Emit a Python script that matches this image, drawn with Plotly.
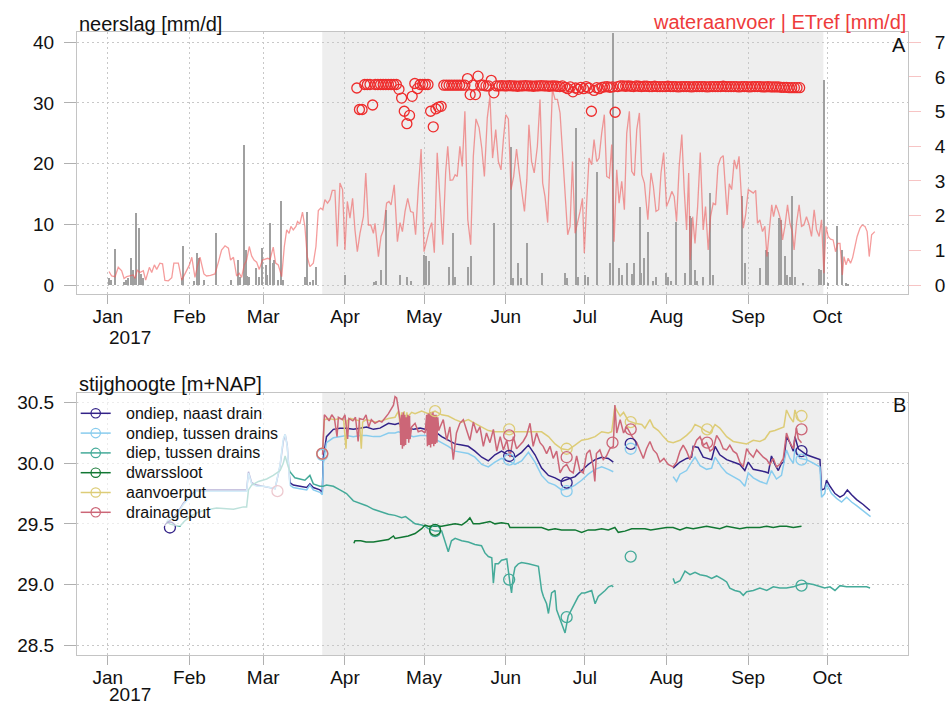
import pandas as pd
import plotly.graph_objects as go

BASE = pd.Timestamp("2017-01-01")

# ---------------- top panel data (day offset from 1 Jan 2017, value) ----------------
NEERSLAG = [(0.6,1.1),(1.2,0.8),(2.8,5.9),(6.2,0.5),(7.2,0.8),(7.8,1.1),(8.8,4.4),(9.7,2.4),(10.1,1.4),
            (10.9,11.8),(11.9,9.4),(12.8,1.8),(13.5,1.1),(28.1,1.1),(28.8,6.4),(32.9,0.7),(33.8,5.2),
            (34.6,4.4),(36.5,0.9),(41.0,8.5),(47.0,0.8),(49.6,4.1),(50.2,1.4),(51.8,23.1),(52.5,5.8),
            (53.0,1.5),(53.7,1.4),(56.5,2.8),(57.4,1.4),(58.8,6.1),(60.0,3.3),(60.6,1.7),(61.8,10.2),
            (62.6,3.6),(63.3,4.1),(64.8,0.8),(65.7,13.8),(66.4,0.8),(74.8,1.4),(75.7,12.1),(76.7,0.5),
            (78.0,0.8),(79.0,3.0),(90.0,1.7),(101.0,0.5),(102.0,0.7),(103.9,2.5),(105.8,12.4),(110.9,1.7),
            (113.7,1.3),(115.0,0.6),(120.1,5.0),(121.0,4.7),(121.9,3.9),(129.5,2.9),(130.9,8.5),(131.9,1.4),
            (136.8,3.0),(137.8,4.7),(146.7,10.2),(152.9,22.8),(153.8,1.1),(155.8,3.6),(156.8,1.1),(159.0,7.0),
            (164.9,1.9),(173.7,1.9),(174.5,1.1),(177.6,25.9),(178.5,1.4),(181.3,1.7),(182.1,1.4),(185.7,18.7),
            (190.7,3.6),(191.9,41.5),(194.0,2.8),(195.2,1.7),(196.9,3.6),(198.8,1.8),(199.8,3.6),(201.9,12.9),
            (202.5,1.9),(203.7,4.4),(204.9,8.8),(207.0,0.6),(208.0,1.3),(211.8,1.9),(212.6,1.4),(213.7,0.6),
            (215.8,10.3),(219.0,1.9),(220.9,11.3),(221.5,11.0),(222.8,2.4),(223.8,0.7),(225.9,1.4),(228.7,15.2),
            (229.7,1.7),(240.8,14.7),(241.9,3.6),(247.7,2.8),(250.0,5.8),(250.7,5.5),(254.8,11.0),(255.6,10.7),
            (256.9,4.7),(257.8,1.7),(258.8,1.4),(259.8,14.7),(260.7,1.4),(263.9,0.4),(269.8,2.6),(270.8,2.4),
            (271.8,33.8),(273.3,0.3),(276.9,9.7),(278.7,5.8),(280.1,0.3),(281.0,0.2)]

ETREF = [(0.5,0.39),(1.5,0.26),(2.8,0.24),(4.0,0.51),(5.3,0.41),(6.2,0.19),(7.2,0.24),(8.5,0.26),(9.7,0.29),
         (10.4,0.19),(11.2,0.43),(12.2,0.36),(13.5,0.41),(14.4,0.14),(15.8,0.51),(16.7,0.36),(17.7,0.58),
         (18.6,0.45),(19.8,0.63),(20.8,0.61),(21.7,0.13),(23.0,0.12),(24.3,0.21),(25.1,0.63),(26.8,0.63),
         (28.1,0.14),(29.3,0.31),(31.0,0.58),(31.9,0.8),(33.1,0.22),(34.0,0.53),(35.0,0.8),(36.5,0.32),
         (37.5,0.26),(39.0,0.28),(40.7,0.32),(42.0,0.66),(43.2,1.01),(44.5,1.13),(45.8,1.06),(46.6,0.72),
         (47.7,0.8),(48.9,0.26),(49.9,0.34),(50.8,0.22),(51.8,0.58),(52.7,0.72),(53.7,1.11),(54.6,0.84),
         (55.5,0.72),(56.5,0.66),(57.5,0.45),(58.7,0.72),(59.7,0.74),(60.7,0.77),(61.6,0.74),(62.8,1.09),
         (63.7,0.63),(64.7,0.58),(66.0,0.24),(67.0,1.11),(67.9,1.59),(68.8,1.49),(69.5,1.69),(70.4,1.59),
         (71.4,1.69),(72.0,1.83),(72.9,1.76),(73.9,2.1),(74.8,1.69),(75.7,0.82),(76.7,0.53),(78.0,0.63),
         (79.0,1.11),(79.9,2.15),(80.8,2.22),(81.6,2.17),(82.4,2.46),(83.4,2.36),(84.3,2.46),(85.2,2.73),
         (86.2,2.73),(87.1,1.11),(88.1,2.94),(89.1,2.75),(90.0,1.01),(90.9,2.41),(91.9,1.93),(92.9,2.5),
         (93.8,1.59),(94.7,0.96),(95.7,1.49),(97.0,1.97),(97.9,3.23),(98.9,1.73),(99.8,1.73),(100.8,1.49),
         (101.4,1.78),(102.7,0.82),(103.7,1.4),(104.6,1.59),(105.8,2.36),(106.7,2.41),(107.5,2.31),(108.7,2.89),
         (109.9,1.25),(110.9,1.8),(111.8,1.54),(112.8,2.12),(113.8,2.5),(114.9,2.12),(115.9,2.09),(116.8,1.45),
         (117.8,2.75),(118.9,3.92),(120.0,0.96),(121.0,1.3),(122.0,1.59),(122.9,1.8),(123.9,0.93),(125.0,3.81),
         (126.1,2.26),(127.1,1.16),(128.2,3.25),(129.0,4.0),(129.9,3.02),(130.9,3.03),(131.8,3.18),(132.6,3.13),
         (133.6,4.0),(134.5,3.42),(135.5,5.01),(136.6,1.88),(137.7,1.16),(138.7,3.71),(139.7,4.79),(140.9,4.53),
         (141.9,3.95),(142.9,3.13),(144.0,4.82),(145.0,5.44),(146.0,3.66),(147.2,4.48),(148.2,3.56),(149.2,3.32),
         (150.1,4.19),(151.0,4.91),(152.0,4.79),(153.0,2.75),(154.0,3.13),(155.1,3.92),(156.0,3.32),(157.0,2.75),
         (158.1,2.12),(159.0,3.03),(159.8,4.62),(160.8,3.56),(161.8,3.23),(163.0,4.0),(164.0,5.35),(165.0,2.94),
         (165.9,2.55),(166.9,1.8),(167.8,3.66),(168.7,5.64),(169.7,5.35),(170.6,5.35),(171.6,4.96),(172.5,3.85),
         (173.5,2.55),(174.5,1.45),(175.4,1.69),(176.3,3.56),(177.3,1.49),(178.3,1.78),(179.2,2.12),(180.1,2.5),
         (180.8,0.92),(181.7,2.36),(182.6,3.66),(183.6,3.47),(184.5,4.19),(185.5,3.56),(186.4,3.66),(187.4,4.38),
         (188.4,4.91),(189.3,3.13),(190.3,3.08),(191.2,4.05),(192.1,1.25),(193.1,3.32),(194.0,2.36),(195.0,2.99),
         (196.0,2.17),(196.9,4.38),(197.9,5.01),(198.8,3.28),(199.8,3.15),(200.7,4.48),(201.7,4.96),(202.6,3.18),
         (203.6,2.94),(204.9,1.88),(206.1,3.23),(207.0,2.84),(208.0,2.12),(209.0,2.17),(209.9,3.23),(210.9,3.82),
         (212.0,2.26),(213.0,2.46),(214.0,2.7),(214.9,2.55),(215.8,1.83),(216.8,3.42),(217.8,4.34),(218.7,2.75),
         (219.6,1.59),(220.4,3.23),(221.0,0.72),(221.9,1.97),(222.8,1.2),(223.8,2.26),(224.8,3.82),(225.9,1.59),
         (226.8,2.26),(227.8,1.01),(228.7,1.97),(229.7,2.36),(230.6,2.31),(231.5,3.42),(232.5,3.66),(233.5,3.73),
         (234.1,3.03),(235.0,2.02),(235.8,2.92),(236.7,2.75),(237.7,3.61),(238.6,3.34),(239.5,3.71),(240.2,2.75),
         (241.1,1.64),(242.0,2.02),(243.0,2.75),(244.0,2.7),(244.9,2.65),(245.8,2.73),(246.5,1.78),(247.4,1.88),
         (248.4,1.54),(249.3,1.69),(250.1,0.82),(251.0,1.59),(251.9,2.31),(252.6,1.97),(253.5,2.31),(254.4,2.12),
         (255.3,1.88),(256.0,1.3),(256.9,1.69),(257.9,2.31),(258.8,1.78),(259.7,1.54),(260.4,1.01),(261.3,1.78),
         (262.3,2.31),(263.2,1.69),(264.1,1.73),(265.1,1.97),(266.1,1.73),(267.0,1.4),(268.0,2.17),(268.9,1.59),
         (269.9,1.4),(270.8,1.88),(271.7,0.34),(272.5,1.69),(273.3,1.4),(274.2,1.32),(275.2,1.3),(276.1,0.96),
         (277.0,1.2),(277.8,1.2),(278.7,0.29),(279.3,0.82),(280.1,0.58),(280.9,0.77),(281.8,0.63),(282.6,0.79),
         (283.5,1.11),(284.3,1.4),(285.4,1.64),(286.2,1.73),(287.3,1.69),(288.1,1.54),(288.9,0.82),(289.8,1.45),
         (291.0,1.54)]

WATERAANVOER_START = 94.5
WATERAANVOER = [5.68,5.06,5.06,5.78,5.78,5.78,5.19,5.78,5.78,5.78,5.78,5.78,5.78,5.78,5.78,5.78,
                5.64,5.39,5.01,4.65,4.89,5.44,5.81,5.66,5.78,5.78,5.78,5.78,5.01,4.56,5.08,5.13,
                5.15,5.76,5.76,5.76,5.76,5.76,5.76,5.76,5.76,5.76,5.95,5.49,5.76,5.49,6.02,5.76,
                5.76,5.74,5.74,5.90,5.54,5.74,5.74,5.75,5.74,5.74,5.75,5.74,5.74,5.73,5.74,5.74,
                5.75,5.74,5.74,5.73,5.74,5.74,5.75,5.74,5.74,5.73,5.74,5.74,5.73,5.72,5.74,5.70,
                5.66,5.71,5.57,5.68,5.64,5.70,5.66,5.72,5.68,5.01,5.61,5.69,5.66,5.70,5.71,5.72,
                5.70,5.71,4.98,5.72,5.74,5.74,5.73,5.74,5.73,5.72,5.74,5.73,5.72,5.73,5.73,5.72,
                5.72,5.73,5.72,5.72,5.72,5.72,5.73,5.72,5.72,5.72,5.71,5.72,5.72,5.72,5.72,5.71,
                5.72,5.72,5.72,5.72,5.72,5.71,5.72,5.72,5.72,5.72,5.72,5.73,5.72,5.72,5.72,5.72,
                5.72,5.71,5.72,5.72,5.72,5.71,5.72,5.72,5.72,5.72,5.71,5.71,5.72,5.71,5.71,5.71,
                5.71,5.70,5.70,5.70,5.69,5.69,5.69,5.69,5.69]

# ---------------- bottom panel data (day offset, stijghoogte m+NAP) ----------------
ONDIEP_NAAST = [(22.4,29.51),(24.3,29.54),(26.2,29.58),(28.7,29.67),(31.2,29.73),(33.7,29.78),(36.3,29.78),
    (41.3,29.78),(47.7,29.775),(52.7,29.78),(53.4,29.93),(54.6,29.84),(56.5,29.82),(59.0,29.81),(61.6,29.8),
    (63.5,29.79),(65.4,29.98),(66.6,30.18),(67.3,30.24),(68.1,30.15),(69.1,29.84),(70.4,29.82),(72.9,29.81),
    (75.5,29.8),(76.7,29.83),(78.0,29.8),(80.5,29.78),(81.4,29.76),(81.8,30.05),(83.0,30.22),(85.6,30.28),
    (88.1,30.29),(90.6,30.29),(93.2,30.28),(95.7,30.29),(98.2,30.3),(100.8,30.28),(103.3,30.29),(106.5,30.33),
    (109.0,30.32),(110.3,30.33),(113.0,30.3),(116.0,30.28),(118.5,30.29),(120.4,30.28),(122.5,30.27),
    (124.2,30.26),(126.7,30.22),(129.2,30.19),(131.8,30.16),(134.3,30.15),(136.8,30.14),(139.3,30.1),
    (141.9,30.05),(144.4,30.02),(146.9,30.07),(149.4,30.1),(152.0,30.07),(154.5,30.05),(157.0,30.09),
    (159.6,30.15),(162.1,30.07),(164.6,29.96),(167.2,29.9),(169.7,29.88),(172.2,29.85),(174.7,29.87),
    (177.3,29.89),(179.8,29.94),(182.3,29.99),(184.9,30.03),(187.4,30.05),(189.9,30.04),(191.8,30.01),
    (None,None),
    (214.5,29.96),(217.1,30.01),(219.6,30.04),(221.5,30.05),(222.1,30.14),(224.0,30.13),(225.9,30.05),
    (227.2,30.04),(229.1,30.03),(230.4,30.14),(232.2,30.07),(234.8,30.03),(237.3,30.01),(239.8,29.99),
    (241.7,29.94),(243.0,30.01),(244.9,29.95),(247.4,29.94),(249.3,29.93),(250.6,29.92),(251.8,30.06),
    (253.1,29.99),(254.4,29.94),(255.6,30.0),(256.5,30.01),(257.5,30.22),(258.8,30.17),(260.1,30.1),
    (260.7,30.22),(262.0,30.12),(263.2,30.1),(265.1,30.07),(267.7,30.05),(270.2,30.03),(270.8,29.78),
    (272.0,29.79),(272.7,29.86),(274.0,29.81),(275.9,29.75),(277.8,29.72),(279.3,29.74),(280.6,29.78),
    (282.2,29.74),(284.1,29.7),(286.6,29.66),(289.2,29.61)]

ONDIEP_TUSSEN = [(22.4,29.53),(24.3,29.54),(26.2,29.57),(28.7,29.66),(31.2,29.72),(33.7,29.77),(36.3,29.77),
    (41.3,29.77),(47.7,29.77),(52.7,29.77),(53.4,29.92),(54.6,29.83),(56.5,29.81),(59.0,29.81),(61.6,29.8),
    (63.5,29.79),(65.4,29.99),(66.6,30.2),(67.3,30.24),(68.1,30.14),(69.1,29.82),(70.4,29.8),(72.9,29.79),
    (75.5,29.78),(76.7,29.82),(78.0,29.78),(80.5,29.76),(81.4,29.74),(81.8,30.0),(83.0,30.17),(85.6,30.21),
    (88.1,30.22),(90.6,30.23),(93.2,30.22),(95.7,30.23),(98.2,30.23),(100.8,30.22),(103.3,30.22),
    (106.5,30.25),(109.0,30.25),(110.3,30.26),(113.0,30.24),(116.0,30.22),(118.5,30.23),(120.4,30.23),
    (122.5,30.22),(124.2,30.2),(126.7,30.17),(129.2,30.14),(131.8,30.1),(134.3,30.09),(136.8,30.08),
    (139.3,30.05),(141.9,29.99),(144.4,29.97),(146.9,30.01),(149.4,30.04),(152.0,30.02),(154.5,29.99),
    (157.0,30.02),(159.6,30.09),(162.1,30.01),(164.6,29.9),(167.2,29.84),(169.7,29.82),(172.2,29.78),
    (174.7,29.79),(177.3,29.82),(179.8,29.86),(182.3,29.91),(184.9,29.95),(187.4,29.97),(189.9,29.95),
    (191.8,29.93),
    (None,None),
    (214.5,29.89),(215.8,29.85),(217.1,29.91),(219.6,29.94),(221.5,30.01),(222.8,30.05),(224.7,29.98),
    (227.2,29.95),(229.1,29.96),(230.4,30.05),(232.8,29.97),(234.8,29.92),(237.3,29.89),(239.8,29.86),
    (241.7,29.81),(243.0,29.92),(244.9,29.88),(247.4,29.85),(250.0,29.83),(251.8,29.94),(253.7,29.87),
    (255.6,29.9),(257.5,30.11),(258.8,30.04),(260.1,30.0),(260.7,30.12),(262.6,30.04),(265.1,30.03),
    (267.7,30.0),(270.2,29.97),(270.8,29.72),(272.0,29.75),(272.7,29.83),(274.6,29.75),(276.5,29.71),
    (278.4,29.68),(280.3,29.72),(282.2,29.68),(284.1,29.65),(286.6,29.61),(289.4,29.56)]

DIEP_TUSSEN = [(22.4,29.52),(23.5,29.5),(25.0,29.49),(27.4,29.48),(29.0,29.52),(31.2,29.56),(33.7,29.59),
    (36.3,29.61),(41.3,29.63),(47.7,29.62),(51.5,29.64),(52.7,29.64),(53.4,29.78),(54.6,29.82),(57.2,29.85),
    (60.3,29.87),(62.8,29.9),(65.4,29.94),(66.6,30.0),(67.3,30.06),(68.1,30.0),(69.1,29.93),(71.0,29.88),
    (72.9,29.87),(74.8,29.86),(76.7,29.9),(78.0,29.83),(80.5,29.81),(81.8,29.81),(83.0,29.82),(85.6,29.81),
    (88.1,29.78),(90.6,29.75),(93.2,29.69),(95.7,29.67),(98.2,29.65),(100.8,29.62),(103.3,29.6),(106.5,29.58),
    (109.0,29.57),(111.5,29.55),(113.0,29.56),(115.3,29.52),(116.6,29.5),(119.1,29.49),(120.4,29.48),
    (121.6,29.46),(124.2,29.44),(126.7,29.44),(128.6,29.31),(129.2,29.27),(130.4,29.36),(131.8,29.38),
    (134.3,29.36),(136.8,29.35),(139.3,29.33),(141.8,29.32),(143.1,29.26),(144.4,29.23),(145.7,29.22),
    (146.3,29.01),(147.0,29.17),(148.2,29.17),(149.4,29.2),(151.4,29.21),(152.6,29.01),(153.2,28.93),
    (153.8,29.06),(154.5,29.14),(155.8,29.17),(157.0,29.18),(159.6,29.17),(162.1,29.16),(163.4,29.15),
    (164.6,28.95),(165.3,28.9),(166.5,28.84),(167.2,28.76),(168.4,28.93),(169.7,28.95),(170.3,28.79),
    (171.6,28.71),(172.8,28.65),(173.5,28.6),(174.7,28.74),(175.9,28.79),(177.3,28.84),(178.5,28.9),
    (179.8,28.93),(181.0,28.93),(182.3,28.94),(183.6,28.95),(184.9,28.84),(186.1,28.9),(188.7,28.95),
    (190.0,28.98),(191.2,28.99),(191.8,28.98),
    (None,None),
    (214.5,29.05),(215.2,29.01),(217.1,29.03),(219.0,29.11),(220.9,29.08),(222.8,29.1),(224.7,29.08),
    (227.2,29.07),(229.1,29.05),(231.0,29.07),(233.5,29.04),(234.8,29.02),(236.0,28.97),(237.9,28.95),
    (239.8,28.94),(241.1,28.91),(242.4,28.94),(244.9,28.95),(247.4,28.97),(250.0,28.95),(252.5,28.98),
    (255.0,28.97),(257.5,28.97),(260.1,28.98),(262.6,29.0),(265.1,29.01),(267.7,29.0),(270.2,28.98),
    (272.0,28.97),(274.0,28.98),(275.9,28.95),(277.8,28.99),(280.3,28.98),(282.8,28.98),(285.4,28.98),
    (287.9,28.98),(289.2,28.97)]

DWARSSLOOT = [(93.4,29.34),(93.8,29.36),(96.0,29.36),(98.0,29.35),(100.8,29.35),(103.3,29.36),(106.5,29.37),
    (108.4,29.4),(109.0,29.38),(111.5,29.39),(114.0,29.4),(116.6,29.42),(119.1,29.46),(120.4,29.49),
    (121.6,29.48),(124.2,29.48),(126.7,29.48),(129.2,29.49),(131.8,29.5),(134.3,29.49),(136.2,29.52),
    (137.4,29.55),(138.7,29.5),(141.0,29.5),(143.1,29.51),(145.0,29.52),(146.9,29.5),(149.4,29.51),
    (152.0,29.5),(152.6,29.47),(161.0,29.47),(162.1,29.47),(164.6,29.47),(167.2,29.45),(169.7,29.46),
    (172.2,29.45),(174.7,29.45),(177.3,29.45),(179.8,29.43),(182.3,29.45),(184.9,29.45),(187.4,29.46),
    (189.9,29.45),(192.4,29.47),(193.7,29.43),(196.2,29.44),(198.8,29.46),(201.3,29.46),(203.8,29.46),
    (206.0,29.45),(209.5,29.46),(212.0,29.47),(214.5,29.47),(217.1,29.45),(219.6,29.47),(222.1,29.46),
    (224.7,29.47),(227.2,29.48),(229.7,29.47),(232.2,29.46),(234.8,29.48),(237.3,29.47),(239.8,29.46),
    (242.4,29.47),(244.9,29.47),(247.4,29.47),(250.0,29.48),(252.5,29.47),(255.0,29.48),(257.5,29.48),
    (260.1,29.47),(263.2,29.48)]

AANVOERPUT = [(81.5,30.1),(82.2,30.36),(84.0,30.37),(86.0,30.36),(88.0,30.37),(89.5,30.36),(90.4,30.12),
    (90.8,30.35),(92.0,30.37),(94.0,30.36),(95.5,30.35),(96.2,30.12),(96.7,30.34),(98.0,30.36),(100.0,30.35),
    (101.4,30.34),(103.8,30.35),(106.5,30.37),(109.0,30.38),(110.3,30.43),(111.0,30.3),(111.5,30.42),
    (112.0,30.25),(112.5,30.43),(113.0,30.22),(113.5,30.42),(114.0,30.25),(114.5,30.4),(115.3,30.42),
    (116.6,30.41),(119.1,30.43),(121.6,30.41),(124.2,30.43),(126.7,30.4),(129.2,30.39),(131.8,30.36),
    (134.3,30.34),(136.8,30.36),(139.3,30.33),(141.9,30.3),(144.4,30.27),(146.9,30.26),(149.4,30.26),
    (152.0,30.26),(154.5,30.26),(157.0,30.26),(159.6,30.26),(162.1,30.26),(164.6,30.26),(167.2,30.22),
    (169.7,30.16),(172.2,30.12),(174.7,30.11),(177.3,30.15),(179.8,30.19),(182.3,30.2),(184.9,30.22),
    (187.4,30.26),(189.9,30.25),(191.2,30.26),(192.4,30.47),(193.0,30.44),(194.4,30.39),(195.7,30.42),
    (197.5,30.35),(200.0,30.33),(202.6,30.32),(203.8,30.29),(205.7,30.36),(207.0,30.3),(208.9,30.27),
    (210.8,30.22),(212.6,30.18),(214.5,30.17),(217.1,30.19),(219.6,30.23),(221.5,30.27),(222.8,30.32),
    (224.7,30.3),(226.6,30.27),(228.5,30.25),(230.4,30.32),(232.2,30.29),(234.8,30.22),(237.3,30.18),
    (239.8,30.17),(242.4,30.16),(244.9,30.19),(247.4,30.18),(249.3,30.2),(251.2,30.26),(253.1,30.27),
    (255.0,30.29),(256.5,30.3),(257.5,30.44),(258.8,30.38),(260.1,30.34),(260.7,30.44),(262.0,30.36),
    (263.2,30.34)]

DRAINAGEPUT = [(81.5,30.07),(82.2,30.4),(83.0,30.38),(84.0,30.35),(85.0,30.4),(86.0,30.37),(87.0,30.22),
    (87.5,30.38),(89.0,30.36),(90.0,30.4),(91.0,30.2),(91.5,30.37),(93.0,30.35),(94.0,30.38),(95.0,30.18),
    (95.5,30.37),(97.0,30.36),(98.0,30.4),(99.0,30.3),(100.0,30.36),(101.4,30.33),(103.0,30.35),(104.0,30.34),
    (106.5,30.41),(108.4,30.48),(109.0,30.55),(109.6,30.54),(110.3,30.44),(110.9,30.36),(111.2,30.15),
    (111.5,30.4),(111.8,30.12),(112.1,30.42),(112.4,30.14),(112.7,30.4),(113.0,30.15),(113.3,30.38),
    (113.6,30.2),(113.9,30.4),(114.2,30.17),(114.5,30.39),(114.7,30.2),(115.3,30.3),(116.6,30.33),
    (117.8,30.26),(119.1,30.27),(120.4,30.25),(121.0,30.4),(121.3,30.14),(121.6,30.41),(121.9,30.15),
    (122.2,30.42),(122.5,30.13),(122.8,30.41),(123.1,30.16),(123.4,30.42),(123.7,30.14),(124.0,30.4),
    (124.3,30.16),(124.6,30.4),(124.9,30.17),(125.2,30.38),(125.6,30.27),(126.1,30.3),(127.3,30.36),
    (128.6,30.19),(129.8,30.3),(131.1,30.03),(132.3,30.25),(133.6,30.33),(134.9,30.36),(136.2,30.27),
    (137.4,30.19),(138.7,30.34),(140.0,30.25),(141.2,30.3),(142.5,30.14),(143.7,30.25),(145.0,30.17),
    (146.3,30.28),(147.6,30.1),(148.9,30.22),(150.1,30.11),(151.4,30.19),(152.6,30.05),(153.9,30.22),
    (155.1,30.12),(156.4,30.15),(157.6,30.18),(158.9,30.23),(160.2,30.33),(161.4,30.14),(162.7,30.25),
    (164.0,30.17),(165.2,30.14),(166.5,30.08),(167.8,30.14),(169.0,30.04),(170.3,30.1),(171.6,29.92),
    (172.8,29.97),(174.1,29.99),(175.3,29.94),(176.6,29.92),(177.9,30.06),(179.1,29.94),(180.4,29.92),
    (181.7,30.08),(182.9,30.11),(184.2,29.97),(184.8,29.85),(185.4,30.08),(186.7,30.11),(188.0,30.03),
    (189.2,30.06),(190.5,30.12),(191.8,30.14),(192.4,30.48),(193.1,30.25),(194.4,30.36),(195.7,30.25),
    (196.9,30.3),(198.2,30.25),(199.5,30.2),(200.7,30.17),(201.9,30.1),(203.2,30.04),(204.4,30.12),
    (205.7,30.18),(207.0,30.11),(208.3,30.08),(209.5,30.01),(211.0,30.04),(212.6,29.99),(214.5,29.97),
    (215.8,30.01),(217.1,30.1),(218.3,30.15),(219.6,30.1),(220.9,30.03),(222.1,30.12),(223.4,30.19),
    (224.7,30.22),(226.0,30.15),(227.2,30.17),(228.5,30.1),(229.7,30.12),(231.0,30.23),(232.2,30.19),
    (233.5,30.12),(234.8,30.11),(236.0,30.15),(237.3,30.1),(238.6,30.08),(239.8,30.01),(241.1,29.97),
    (242.4,30.12),(243.6,30.08),(244.9,30.05),(246.2,30.11),(247.4,30.08),(248.7,30.05),(250.0,30.03),
    (251.2,29.99),(252.5,30.04),(253.7,29.97),(255.0,29.99),(256.3,30.04),(257.5,30.25),(258.8,30.17),
    (260.1,30.12),(260.7,30.2),(261.3,30.29),(262.0,30.2),(263.2,30.17)]

# manual (hand) measurements shown as open circles
HAND = {
    "ondiep, naast drain":   [(23.6,29.47),(152.3,30.06),(174.1,29.84),(198.4,30.16),(263.2,30.1)],
    "ondiep, tussen drains": [(81.4,30.07),(152.3,30.03),(174.1,29.77),(198.4,30.12),(263.2,30.03)],
    "diep, tussen drains":   [(124.2,29.44),(152.3,29.04),(174.1,28.73),(198.4,29.23),(263.2,28.99)],
    "dwarssloot":            [(124.2,29.45)],
    "aanvoerput":            [(81.4,30.08),(124.2,30.43),(152.3,30.28),(174.1,30.12),(198.4,30.34),
                              (227.4,30.28),(263.2,30.39)],
    "drainageput":           [(64.4,29.77),(81.4,30.08),(152.3,30.23),(174.1,30.05),(191.5,30.17),
                              (198.4,30.28),(227.4,30.17),(263.2,30.28)],
}

SERIES_NAMES = ["ondiep, naast drain", "ondiep, tussen drains", "diep, tussen drains",
                "dwarssloot", "aanvoerput", "drainageput"]
SERIES_DATA = [ONDIEP_NAAST, ONDIEP_TUSSEN, DIEP_TUSSEN, DWARSSLOOT, AANVOERPUT, DRAINAGEPUT]
SERIES_COLORS = ["#332288", "#88CCEE", "#44AA99", "#117733", "#DDCC77", "#CC6677"]

MONTH_TICKS = ["2017-01-01", "2017-02-01", "2017-03-01", "2017-04-01", "2017-05-01",
               "2017-06-01", "2017-07-01", "2017-08-01", "2017-09-01", "2017-10-01"]
MONTH_LABELS = ["Jan", "Feb", "Mar", "Apr", "May", "Jun", "Jul", "Aug", "Sep", "Oct"]

PERIOD = (81.4, 271.5)   # shaded period (days)


def to_dt(d):
    return None if d is None else BASE + pd.Timedelta(days=d)


def split(pairs):
    return [to_dt(p[0]) for p in pairs], [p[1] for p in pairs]


FONT = "Liberation Sans, Arial, sans-serif"
W, H = 947, 706
L, R, T, B = 77, 39, 32, 51
PW, PH = W - L - R, H - T - B


def py(pix):
    return (H - B - pix) / PH


def px(pix):
    return (pix - L) / PW


fig = go.Figure()

# precipitation bars
bx, by = split(NEERSLAG)
fig.add_trace(go.Bar(x=bx, y=by, width=0.55 * 86400000, marker=dict(color="#a0a0a0", line=dict(width=0)),
                     xaxis="x", yaxis="y", showlegend=False))
# ETref line
ex, ey = split(ETREF)
fig.add_trace(go.Scatter(x=ex, y=ey, mode="lines", line=dict(color="rgba(238,90,90,0.6)", width=1.3),
                         xaxis="x", yaxis="y2", showlegend=False))
# wateraanvoer circles
wx = [to_dt(WATERAANVOER_START + i) for i in range(len(WATERAANVOER))]
fig.add_trace(go.Scatter(x=wx, y=WATERAANVOER, mode="markers",
                         marker=dict(symbol="circle-open", size=10, color="#EE2C2C", line=dict(width=1.3)),
                         xaxis="x", yaxis="y2", showlegend=False))

# bottom panel lines
for name, data, col in zip(SERIES_NAMES, SERIES_DATA, SERIES_COLORS):
    lx, ly = split(data)
    fig.add_trace(go.Scatter(x=lx, y=ly, mode="lines", line=dict(color=col, width=1.5),
                             connectgaps=False, xaxis="x2", yaxis="y3", showlegend=False))
# hand measurements
for name, col in zip(SERIES_NAMES, SERIES_COLORS):
    hx, hy = split(HAND[name])
    fig.add_trace(go.Scatter(x=hx, y=hy, mode="markers", name=name, showlegend=False,
                             marker=dict(symbol="circle-open", size=11, color=col, line=dict(width=1.3)),
                             xaxis="x2", yaxis="y3"))

xrange = [BASE + pd.Timedelta(days=-11.65), BASE + pd.Timedelta(days=303.6)]
GRID = "#c8c8c8"
BORDER = "#c4c4c4"
DASH = "2px,3px"
xcommon = dict(type="date", range=xrange, tickmode="array", tickvals=MONTH_TICKS, ticktext=MONTH_LABELS,
               showgrid=True, gridcolor=GRID, griddash=DASH, gridwidth=1, zeroline=False,
               showline=True, linecolor=BORDER, linewidth=1, mirror=True,
               ticks="outside", ticklen=9, tickcolor="#b0b0b0", ticklabelstandoff=-4,
               tickfont=dict(family=FONT, size=19, color="#111"), automargin=False)
ycommon = dict(showgrid=True, gridcolor=GRID, griddash=DASH, gridwidth=1, zeroline=False,
               showline=True, linecolor=BORDER, linewidth=1, mirror=True,
               ticks="outside", ticklen=12, tickcolor="#b0b0b0",
               tickfont=dict(family=FONT, size=19, color="#111"), automargin=False, ticklabelstandoff=6)

top_dom = [py(294), 1.0]
bot_dom = [0.0, py(393)]

# hand-drawn legend (semi-transparent box, line + open circle, label)
shapes = [
    dict(type="rect", xref="x", yref="y domain", x0=to_dt(PERIOD[0]), x1=to_dt(PERIOD[1]), y0=0, y1=1,
         fillcolor="#eeeeee", line=dict(width=0), layer="below"),
    dict(type="rect", xref="x2", yref="y3 domain", x0=to_dt(PERIOD[0]), x1=to_dt(PERIOD[1]), y0=0, y1=1,
         fillcolor="#eeeeee", line=dict(width=0), layer="below"),
    dict(type="rect", xref="paper", yref="paper", x0=px(78), x1=px(290), y0=py(526), y1=py(396),
         fillcolor="rgba(255,255,255,0.65)", line=dict(width=0), layer="above"),
]
annotations = []
for i, (name, col) in enumerate(zip(SERIES_NAMES, SERIES_COLORS)):
    cy = 413.3 + 19.8 * i
    shapes.append(dict(type="line", xref="paper", yref="paper", x0=px(80.7), x1=px(110.7), y0=py(cy), y1=py(cy),
                       line=dict(color=col, width=1.5), layer="above"))
    shapes.append(dict(type="circle", xref="paper", yref="paper", x0=px(91.0), x1=px(100.4),
                       y0=py(cy + 4.7), y1=py(cy - 4.7), line=dict(color=col, width=1.2),
                       fillcolor="rgba(255,255,255,0)", layer="above"))
    annotations.append(dict(text=name, xref="paper", yref="paper", x=px(124), y=py(cy), xanchor="left",
                            yanchor="middle", showarrow=False, font=dict(family=FONT, size=16, color="#111")))

annotations += [
    dict(text="neerslag [mm/d]", xref="paper", yref="paper", x=0, y=py(23.5), xanchor="left",
         yanchor="middle", showarrow=False, font=dict(family=FONT, size=20, color="#111")),
    dict(text="wateraanvoer | ETref [mm/d]", xref="paper", yref="paper", x=1, y=py(22.5), xanchor="right",
         yanchor="middle", showarrow=False, font=dict(family=FONT, size=20, color="#EE3B3B")),
    dict(text="stijghoogte [m+NAP]", xref="paper", yref="paper", x=0, y=py(384), xanchor="left",
         yanchor="middle", showarrow=False, font=dict(family=FONT, size=20, color="#111")),
    dict(text="A", xref="paper", yref="paper", x=1, y=py(44.5), xanchor="right", yanchor="middle",
         showarrow=False, font=dict(family=FONT, size=20, color="#111")),
    dict(text="B", xref="paper", yref="paper", x=1, y=py(405.5), xanchor="right", yanchor="middle",
         showarrow=False, font=dict(family=FONT, size=20, color="#111")),
    dict(text="2017", xref="paper", yref="paper", x=px(129.7), y=py(337),
         xanchor="center", yanchor="middle", showarrow=False, font=dict(family=FONT, size=19, color="#111")),
    dict(text="2017", xref="paper", yref="paper", x=px(129.7), y=py(694),
         xanchor="center", yanchor="middle", showarrow=False, font=dict(family=FONT, size=19, color="#111")),
]

fig.update_layout(
    width=W, height=H, margin=dict(l=L, r=R, t=T, b=B, pad=0),
    paper_bgcolor="white", plot_bgcolor="white", bargap=0, showlegend=False,
    font=dict(family=FONT, size=16, color="#111"),
    xaxis=dict(xcommon, domain=[0, 1], anchor="y"),
    yaxis=dict(ycommon, domain=top_dom, range=[-1.48, 41.68], tickvals=[0, 10, 20, 30, 40], anchor="x"),
    yaxis2=dict(domain=top_dom, overlaying="y", side="right", anchor="x", range=[-1.48 * 0.175, 41.68 * 0.175],
                tickvals=[0, 1, 2, 3, 4, 5, 6, 7], showgrid=False, zeroline=False, showline=False,
                ticks="outside", ticklen=12, tickcolor="#f7c4c4",
                tickfont=dict(family=FONT, size=19, color="#111"), automargin=False, ticklabelstandoff=10),
    xaxis2=dict(xcommon, domain=[0, 1], anchor="y3"),
    yaxis3=dict(ycommon, domain=bot_dom, range=[28.4175, 30.58], tickvals=[28.5, 29.0, 29.5, 30.0, 30.5],
                ticktext=["28.5", "29.0", "29.5", "30.0", "30.5"], anchor="x2"),
    shapes=shapes,
    annotations=annotations,
)

fig.write_html("out.html", config={"displayModeBar": False},
               post_script="document.body.style.margin='0';document.body.style.overflow='hidden';")
